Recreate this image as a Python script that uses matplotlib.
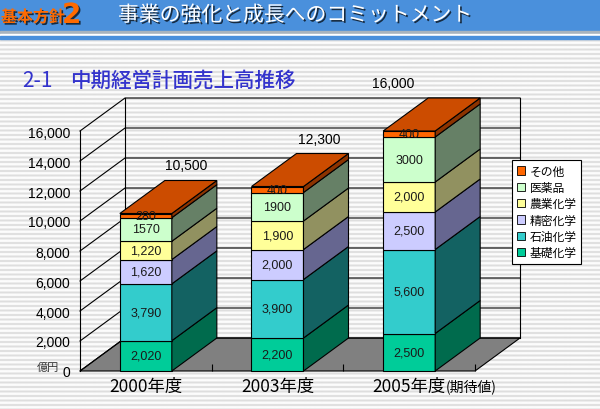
import matplotlib
matplotlib.use("Agg")
import matplotlib.pyplot as plt
import matplotlib.patheffects as pe
from matplotlib.patches import Polygon, Rectangle, Patch
import numpy as np

plt.rcParams['font.family'] = ['Noto Sans CJK JP', 'DejaVu Sans']

# data (億円)
years = ["2000年度", "2003年度", "2005年度"]
segments = ["基礎化学", "石油化学", "精密化学", "農業化学", "医薬品", "その他"]
kiso = [2020, 2200, 2500]
sekiyu = [3790, 3900, 5600]
seimitsu = [1620, 2000, 2500]
nogyo = [1220, 1900, 2000]
iyaku = [1570, 1900, 3000]
sonota = [280, 400, 400]
totals = [10500, 12300, 16000]
yticks = list(range(0, 16001, 2000))

series = [kiso, sekiyu, seimitsu, nogyo, iyaku, sonota]
front_cols = ["#00cc99", "#33cccc", "#ccccff", "#ffff99", "#ccffcc", "#ff6600"]
side_cols = ["#006b4d", "#136262", "#666690", "#919160", "#668066", "#8c3300"]
top_col = "#cc4c00"

W, H = 600, 410
fig = plt.figure(figsize=(W / 100, H / 100), dpi=100)

# background: stripes and header
bg = fig.add_axes([0, 0, 1, 1])
bg.set_xlim(0, W)
bg.set_ylim(H, 0)
bg.axis('off')
rows = np.arange(H * 2)
stripes = np.where((rows % 9) < 4, 0.87, 0.985)[:, None]
bg.imshow(stripes, cmap='gray', vmin=0, vmax=1, extent=(0, W, H, 0), aspect='auto')
bg.add_patch(Rectangle((0, 0), W, 32, color="#4a90dc"))
bg.add_patch(Rectangle((0, 32), W, 3, color="#a9b4be"))
bg.add_patch(Rectangle((0, 35), W, 1.5, color="white"))
bg.add_patch(Rectangle((0, 36.5), W, 3.5, color="#4a90dc"))

shadow = [pe.withSimplePatchShadow(offset=(1.2, -1.2), shadow_rgbFace='black', alpha=0.7)]
bg.text(1, 18, "基本方針", color="#ff6a00", fontsize=11.5, va='center', ha='left',
        fontweight='bold', path_effects=shadow)
bg.text(62, 16, "2", color="#ff6a00", fontsize=20, va='center', ha='left',
        fontweight='bold', family=['DejaVu Sans'], path_effects=shadow)
bg.text(118, 16, "事業の強化と成長へのコミットメント", color="white", fontsize=15,
        va='center', ha='left', path_effects=shadow)
bg.text(22, 81, "2-1", color="#3333cc", fontsize=15, va='center', ha='left')
bg.text(70, 81, "中期経営計画売上高推移", color="#3333cc", fontsize=14.8, va='center',
        ha='left', fontweight='medium')
bg.text(48, 368, "億円", color="#333333", fontsize=8, va='center', ha='center')

# main chart axes = front plane of the 3D box
ax = fig.add_axes([80 / W, 38 / H, 395 / W, 240 / H])
ax.set_xlim(-0.5, 2.5)
ax.set_ylim(0, 16000)
ax.patch.set_visible(False)
for s in ax.spines.values():
    s.set_visible(False)

dx = 45 / (395 / 3)      # depth offset in category units
dy = 33 / 240 * 16000    # depth offset in value units
x0, x1 = -0.5, 2.5
lw = 0.8

# floor
ax.add_patch(Polygon([(x0, 0), (x1, 0), (x1 + dx, dy), (x0 + dx, dy)], closed=True,
                     facecolor="#808080", edgecolor="black", lw=lw, clip_on=False, zorder=1))
# walls / gridlines
for v in yticks:
    ax.plot([x0, x0 + dx, x1 + dx], [v, v + dy, v + dy], color="black", lw=lw,
            clip_on=False, zorder=1.5)
ax.plot([x0, x0], [0, 16000], color="black", lw=lw, clip_on=False, zorder=1.5)
ax.plot([x0 + dx, x0 + dx], [dy, 16000 + dy], color="black", lw=lw, clip_on=False, zorder=1.5)
ax.plot([x1 + dx, x1 + dx], [dy, 16000 + dy], color="black", lw=lw, clip_on=False, zorder=1.5)

# bars
bw = 52 / (395 / 3)
bottoms = np.zeros(len(years))
xs = np.arange(len(years))
for k, vals in enumerate(series):
    vals = np.array(vals, dtype=float)
    ax.bar(xs, vals, bw, bottom=bottoms, color=front_cols[k], edgecolor="black",
           lw=lw, zorder=3, clip_on=False)
    for i in range(len(years)):
        xr = xs[i] + bw / 2
        b, t = bottoms[i], bottoms[i] + vals[i]
        ax.add_patch(Polygon([(xr, b), (xr + dx, b + dy), (xr + dx, t + dy), (xr, t)],
                             closed=True, facecolor=side_cols[k], edgecolor="black",
                             lw=lw, clip_on=False, zorder=3))
    bottoms += vals

for i in range(len(years)):
    xl, xr = xs[i] - bw / 2, xs[i] + bw / 2
    t = bottoms[i]
    ax.add_patch(Polygon([(xl, t), (xr, t), (xr + dx, t + dy), (xl + dx, t + dy)],
                         closed=True, facecolor=top_col, edgecolor="black",
                         lw=lw, clip_on=False, zorder=4))

# segment labels
seg_fmt = [True, True, True, True, False, False]
bottoms = np.zeros(len(years))
for k, vals in enumerate(series):
    for i, v in enumerate(vals):
        txt = f"{v:,}" if seg_fmt[k] else f"{v}"
        ax.text(xs[i], bottoms[i] + v / 2, txt, ha='center', va='center', fontsize=9,
                color="#1a1a1a", family=['Liberation Sans'], zorder=5)
    bottoms += np.array(vals, dtype=float)

# total labels
total_dx = [0.31, 0.32, -0.12]
for i, tot in enumerate(totals):
    ax.text(xs[i] + total_dx[i], tot + 3200, f"{tot:,}", ha='center', va='center',
            fontsize=10, color="black", family=['Liberation Sans'], clip_on=False)

# axes ticks
ax.set_yticks(yticks)
ax.set_yticklabels([f"{v:,}" for v in yticks], family=['Liberation Sans'], fontsize=10)
ax.set_xticks(xs)
ax.set_xticklabels(years, fontsize=12.5)
ax.set_xticks([0.5, 1.5, 2.5], minor=True)
ax.tick_params(axis='y', length=0, pad=7)
ax.tick_params(axis='x', which='major', length=0, pad=4)
ax.tick_params(axis='x', which='minor', direction='in', length=5, width=lw)
lab3 = ax.get_xticklabels()[2]
ax.annotate("(期待値)", xy=(1, 0.5), xycoords=lab3, ha='left', va='center', fontsize=10)

# legend
handles = [Patch(facecolor=front_cols[k], edgecolor="black", lw=0.6, label=segments[k])
           for k in range(len(segments))][::-1]
leg = fig.legend(handles=handles, loc='upper left', bbox_to_anchor=(512 / W, 1 - 161 / H),
                 fontsize=8.5, frameon=True, fancybox=False, handlelength=0.7,
                 handleheight=0.7, handletextpad=0.4, labelspacing=0.28, borderpad=0.4,
                 borderaxespad=0)
leg.get_frame().set_edgecolor("black")
leg.get_frame().set_linewidth(0.8)
leg.get_frame().set_alpha(1)

fig.savefig("out.png", dpi=100)
